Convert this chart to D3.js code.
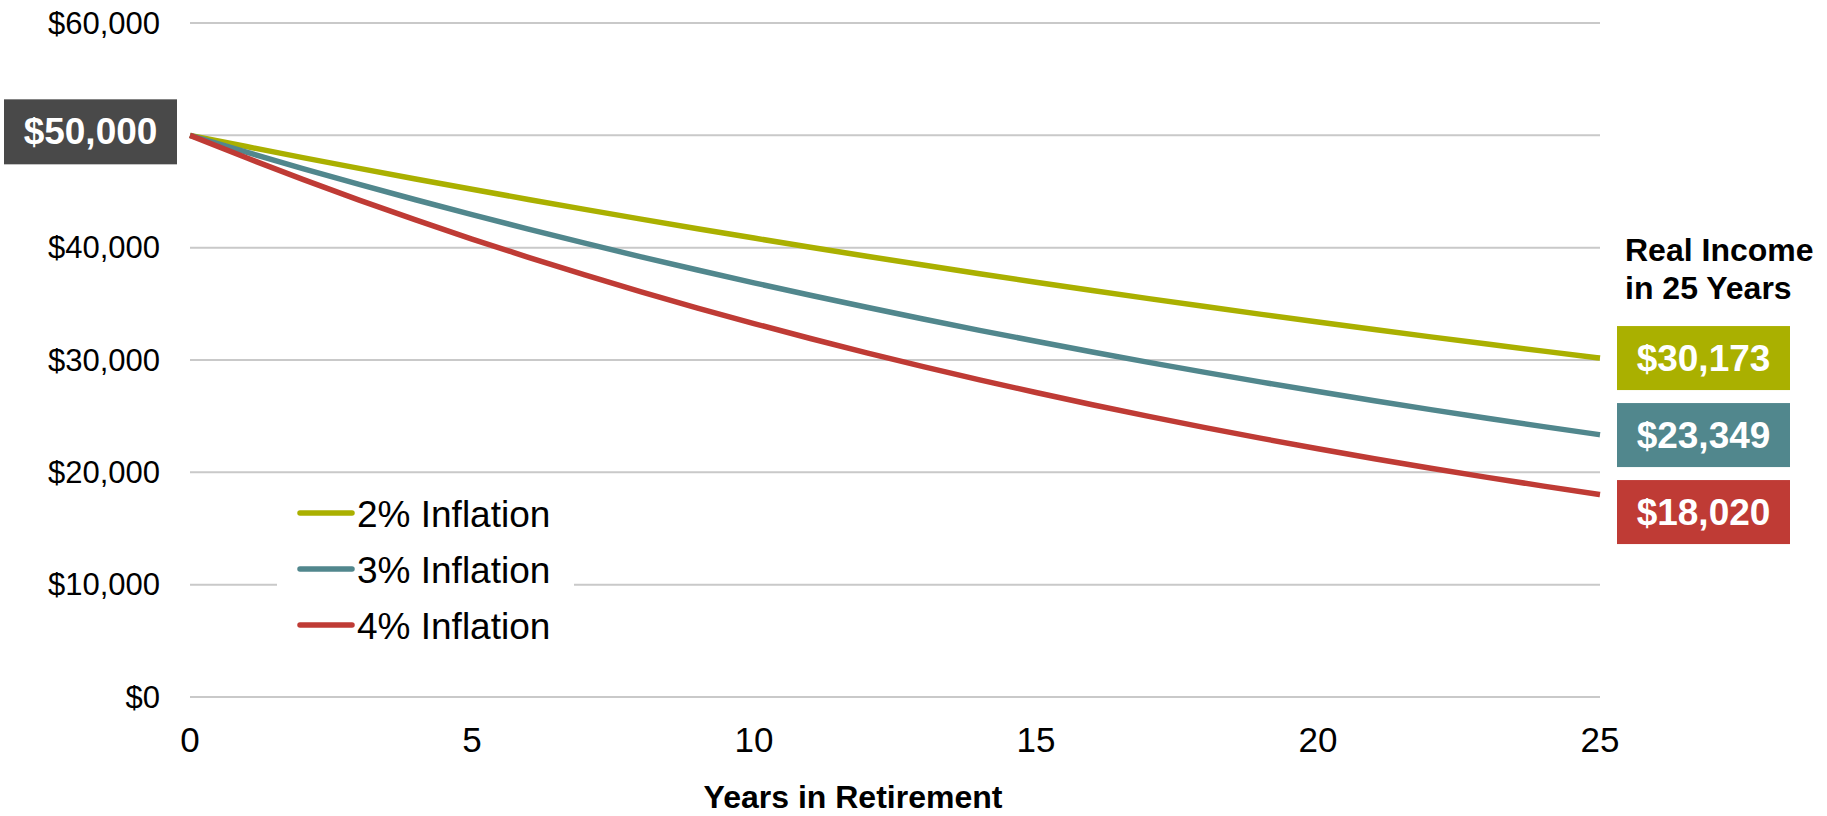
<!DOCTYPE html>
<html>
<head>
<meta charset="utf-8">
<script src="https://cdn.jsdelivr.net/npm/d3@7"></script>
<style>
  html, body { margin: 0; padding: 0; background: #fff; }
  svg { display: block; font-family: "Liberation Sans", Arial, Helvetica, sans-serif; }
</style>
</head>
<body>
<svg id="chart" width="1827" height="816"></svg>
<script>
// Real value of a $50,000 income over 25 years of retirement
const years = [0,1,2,3,4,5,6,7,8,9,10,11,12,13,14,15,16,17,18,19,20,21,22,23,24,25];
const inflation2 = [50000,49000,48020,47060,46118,45196,44292,43406,42538,41687,40854,40037,39236,38451,37682,36928,36190,35466,34757,34062,33380,32713,32059,31417,30789,30173];
const inflation3 = [50000,48500,47045,45634,44265,42937,41649,40399,39187,38012,36871,35765,34692,33651,32642,31663,30713,29791,28898,28031,27190,26374,25583,24815,24071,23349];
const inflation4 = [50000,48000,46080,44237,42467,40769,39138,37572,36069,34627,33242,31912,30635,29410,28234,27104,26020,24979,23980,23021,22100,21216,20367,19553,18771,18020];
const seriesNames = ["2% Inflation", "3% Inflation", "4% Inflation"];
const seriesColors = ["#AAB000", "#51878D", "#BF3B35"];
const yTicks = [0, 10000, 20000, 30000, 40000, 50000, 60000];
const xTicks = [0, 5, 10, 15, 20, 25];
const startValue = 50000;
const endLabelTitle = ["Real Income", "in 25 Years"];
const xTitle = "Years in Retirement";

const series = [inflation2, inflation3, inflation4].map((vals, i) => ({
  name: seriesNames[i], color: seriesColors[i],
  points: years.map((t, j) => ({ t, v: vals[j] }))
}));

const svg = d3.select("#chart");
const x = d3.scaleLinear().domain([0, 25]).range([190, 1600]);
const y = d3.scaleLinear().domain([0, 60000]).range([697, 23]);
const fmt = d3.format("$,");

// Horizontal gridlines
svg.append("g").selectAll("line").data(yTicks).join("line")
  .attr("x1", x(0)).attr("x2", x(25))
  .attr("y1", d => y(d)).attr("y2", d => y(d))
  .attr("stroke", "#c9c9c9").attr("stroke-width", 2);

// Y axis labels (the starting value gets its own badge instead)
svg.append("g").selectAll("text").data(yTicks.filter(d => d !== startValue)).join("text")
  .attr("x", 160).attr("y", d => y(d))
  .attr("text-anchor", "end").attr("dominant-baseline", "central")
  .attr("font-size", 31).attr("fill", "#000")
  .text(d => fmt(d));

// X axis labels
svg.append("g").selectAll("text").data(xTicks).join("text")
  .attr("x", d => x(d)).attr("y", 739)
  .attr("text-anchor", "middle").attr("dominant-baseline", "central")
  .attr("font-size", 35).attr("fill", "#000")
  .text(d => d);

svg.append("text")
  .attr("x", 853).attr("y", 808)
  .attr("text-anchor", "middle")
  .attr("font-size", 32).attr("font-weight", "bold")
  .text(xTitle);

// Series lines
const line = d3.line().x(d => x(d.t)).y(d => y(d.v)).curve(d3.curveMonotoneX);
svg.append("g").selectAll("path").data(series).join("path")
  .attr("d", d => line(d.points))
  .attr("fill", "none").attr("stroke", d => d.color)
  .attr("stroke-width", 5.5).attr("stroke-linejoin", "round");

// Legend on a white panel over the gridlines
const legend = svg.append("g");
legend.append("rect").attr("x", 277).attr("y", 486).attr("width", 297).attr("height", 164).attr("fill", "#fff");
const rows = legend.selectAll("g").data(series).join("g")
  .attr("transform", (d, i) => `translate(0, ${513 + i * 56})`);
rows.append("line").attr("x1", 300).attr("x2", 352).attr("y1", 0).attr("y2", 0)
  .attr("stroke", d => d.color).attr("stroke-width", 5.5).attr("stroke-linecap", "round");
rows.append("text").attr("x", 357).attr("y", 1).attr("dominant-baseline", "central")
  .attr("font-size", 37).attr("fill", "#000").text(d => d.name);

// Starting value badge
const startY = y(startValue);
svg.append("rect").attr("x", 4).attr("y", startY - 36).attr("width", 173).attr("height", 65).attr("fill", "#494949");
svg.append("text").attr("x", 90.5).attr("y", startY - 3.5)
  .attr("text-anchor", "middle").attr("dominant-baseline", "central")
  .attr("font-size", 37).attr("font-weight", "bold").attr("fill", "#fff")
  .text(fmt(startValue));

// End-of-period title and value badges
svg.append("g").selectAll("text").data(endLabelTitle).join("text")
  .attr("x", 1625).attr("y", (d, i) => 261 + i * 38)
  .attr("font-size", 32).attr("font-weight", "bold").attr("fill", "#000")
  .text(d => d);

const boxH = 64, minStep = 77;
let prev = -Infinity;
const badges = series.map(s => {
  const v = s.points[s.points.length - 1].v;
  let cy = y(v);
  if (cy < prev + minStep) cy = prev + minStep;
  prev = cy;
  return { v, cy, color: s.color };
});
const badgeG = svg.append("g").selectAll("g").data(badges).join("g");
badgeG.append("rect").attr("x", 1617).attr("y", d => d.cy - boxH / 2)
  .attr("width", 173).attr("height", boxH).attr("fill", d => d.color);
badgeG.append("text").attr("x", 1703.5).attr("y", d => d.cy)
  .attr("text-anchor", "middle").attr("dominant-baseline", "central")
  .attr("font-size", 37).attr("font-weight", "bold").attr("fill", "#fff")
  .text(d => fmt(d.v));
</script>
</body>
</html>
